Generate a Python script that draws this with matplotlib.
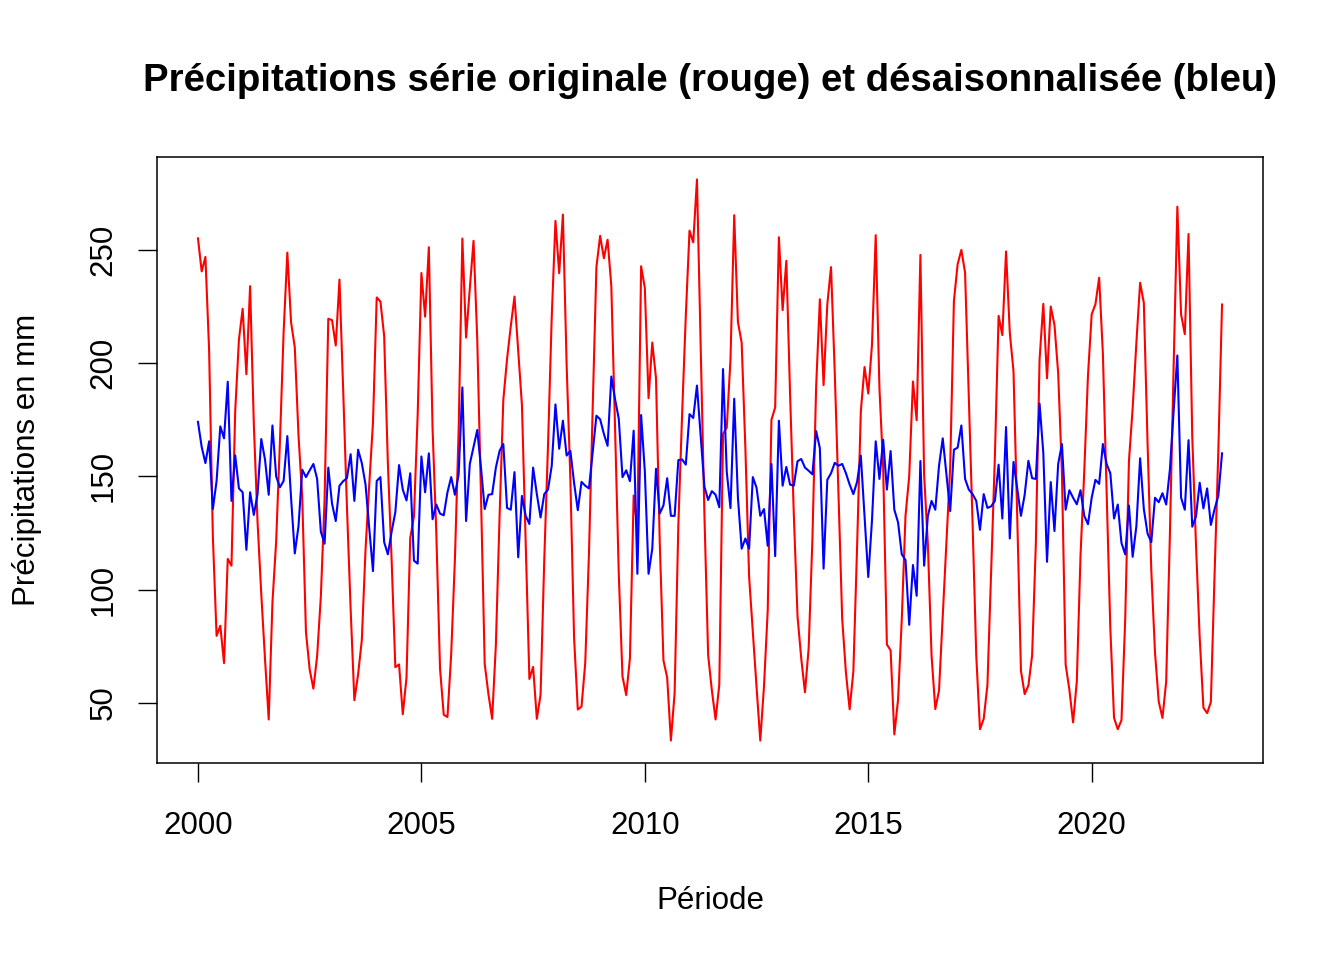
import numpy as np
import matplotlib
matplotlib.use('Agg')
from matplotlib import pyplot as plt

# série désaisonnalisée (bleu), mensuelle jan 2000 - déc 2022
blue_vals = [
    174.1, 163.0, 155.9, 165.5, 135.6, 148.0, 172.1, 166.8, 191.8, 139.2, 159.3, 144.7,
    143.0, 117.6, 143.0, 133.0, 142.2, 166.5, 157.5, 141.9, 172.5, 150.0, 145.2, 148.0,
    167.8, 140.6, 116.0, 128.1, 153.0, 149.7, 152.7, 155.5, 148.9, 125.6, 120.3, 153.9,
    138.0, 130.3, 145.9, 147.9, 149.2, 159.8, 139.2, 161.8, 155.9, 146.4, 127.0, 108.2,
    148.0, 149.7, 121.0, 115.6, 125.6, 134.2, 155.0, 144.2, 139.4, 151.4, 112.8, 111.5,
    158.8, 143.0, 160.2, 131.1, 137.6, 133.6, 132.8, 143.0, 149.7, 141.9, 150.9, 189.3,
    130.3, 155.5, 163.0, 170.5, 153.9, 135.6, 141.9, 142.2, 153.9, 161.3, 164.3, 136.1,
    135.3, 151.9, 114.3, 141.4, 132.6, 129.0, 153.9, 142.2, 131.9, 142.2, 144.2, 154.7,
    181.8, 162.2, 174.6, 159.2, 161.3, 147.2, 135.1, 147.6, 145.9, 144.7, 160.9, 176.8,
    175.2, 168.8, 163.5, 194.1, 184.1, 175.5, 149.7, 152.7, 147.9, 170.2, 107.0, 177.1,
    152.2, 107.0, 118.1, 153.4, 133.6, 137.2, 149.2, 132.6, 132.6, 157.2, 157.5, 155.2,
    177.5, 175.8, 190.1, 168.0, 145.5, 139.6, 143.5, 141.9, 136.4, 197.4, 152.0, 136.0,
    184.3, 140.6, 118.1, 122.6, 118.1, 149.7, 145.0, 132.6, 135.6, 119.4, 155.5, 114.8,
    174.6, 145.9, 154.2, 146.4, 145.9, 156.7, 157.7, 153.9, 152.5, 150.9, 170.0, 162.5,
    109.3, 148.5, 151.4, 156.0, 154.7, 155.5, 151.4, 146.4, 142.2, 147.6, 159.2, 132.6,
    105.6, 130.6, 165.5, 148.9, 166.2, 144.2, 161.2, 135.3, 129.7, 115.6, 113.1, 84.5,
    110.9, 97.3, 156.8, 110.6, 132.6, 139.2, 135.3, 154.7, 166.8, 150.9, 134.7, 161.8,
    162.7, 172.5, 148.9, 144.2, 142.2, 139.2, 126.4, 142.2, 136.1, 136.8, 139.2, 155.2,
    131.4, 171.8, 122.6, 156.4, 144.7, 132.6, 141.9, 156.9, 149.2, 148.9, 182.1, 160.5,
    112.3, 147.5, 125.9, 155.5, 164.3, 135.3, 143.9, 140.6, 137.7, 143.9, 132.6, 128.9,
    140.6, 148.5, 146.7, 164.3, 155.5, 151.4, 131.4, 137.6, 120.6, 115.6, 137.2, 114.5,
    128.1, 158.0, 135.6, 124.8, 121.0, 140.6, 138.6, 142.6, 137.6, 153.0, 178.8, 203.4,
    140.6, 135.3, 166.0, 127.8, 132.3, 147.2, 135.9, 144.7, 128.6, 135.6, 141.4, 160.2,
]

# série originale (rouge)
red_vals = [
    255.1, 240.5, 246.9, 205.5, 123.3, 79.6, 84.1, 67.6, 113.6, 110.6, 178.8, 210.4,
    224.0, 195.1, 234.0, 173.0, 129.9, 98.1, 69.5, 42.7, 94.3, 121.4, 164.7, 213.7,
    248.8, 218.1, 207.0, 168.1, 140.7, 81.3, 64.7, 56.3, 70.7, 97.0, 139.8, 219.6,
    219.0, 207.8, 236.9, 187.9, 136.9, 91.4, 51.2, 62.6, 77.7, 117.8, 146.5, 173.9,
    229.0, 227.2, 212.0, 155.6, 113.3, 65.8, 67.0, 45.0, 61.2, 122.8, 132.3, 177.2,
    239.8, 220.5, 251.2, 171.1, 125.3, 65.2, 44.8, 43.8, 71.5, 113.3, 170.4, 255.0,
    211.3, 233.0, 254.0, 210.5, 141.6, 67.2, 53.9, 43.0, 75.7, 132.7, 183.8, 201.8,
    216.3, 229.4, 205.3, 181.4, 120.3, 60.6, 65.9, 43.0, 53.7, 113.6, 163.7, 220.4,
    262.8, 239.7, 265.6, 199.2, 149.0, 78.8, 47.1, 48.4, 67.7, 116.1, 180.4, 242.5,
    256.2, 246.3, 254.5, 234.1, 171.8, 107.1, 61.7, 53.5, 69.7, 141.6, 126.5, 242.8,
    233.2, 184.5, 209.1, 193.4, 121.3, 68.8, 61.2, 33.4, 54.4, 128.6, 177.0, 220.9,
    258.5, 253.3, 281.1, 208.0, 133.2, 71.2, 55.5, 42.7, 58.2, 168.8, 171.5, 201.7,
    265.3, 218.1, 209.1, 162.6, 105.8, 81.3, 57.0, 33.4, 57.4, 90.8, 175.0, 180.5,
    255.6, 223.4, 245.2, 186.4, 133.6, 88.3, 69.7, 54.7, 74.3, 122.3, 189.5, 228.2,
    190.3, 226.0, 242.4, 196.0, 142.4, 87.1, 63.4, 47.2, 64.0, 119.0, 178.7, 198.3,
    186.6, 208.1, 256.5, 188.9, 153.9, 75.8, 73.2, 36.1, 51.5, 87.0, 132.6, 150.2,
    191.9, 174.8, 247.8, 150.6, 120.3, 70.8, 47.3, 55.5, 88.6, 122.3, 154.2, 227.5,
    243.7, 250.0, 239.9, 184.2, 129.9, 70.8, 38.4, 43.0, 57.9, 108.2, 158.7, 220.9,
    212.4, 249.3, 213.6, 196.4, 132.4, 64.2, 53.9, 57.7, 71.0, 120.3, 201.6, 226.2,
    193.3, 225.0, 216.9, 195.5, 152.0, 66.9, 55.9, 41.4, 59.5, 115.3, 152.1, 194.6,
    221.6, 226.0, 237.7, 204.3, 143.2, 83.0, 43.4, 38.4, 42.4, 87.0, 156.7, 180.2,
    209.1, 235.5, 226.6, 164.8, 108.7, 72.2, 50.6, 43.4, 59.4, 124.4, 198.3, 269.1,
    221.6, 212.8, 257.0, 167.8, 120.0, 78.8, 47.9, 45.5, 50.4, 107.0, 160.9, 225.9,
]

start_year = 2000
x_ticks = [2000, 2005, 2010, 2015, 2020]
y_ticks = [50, 100, 150, 200, 250]

t = start_year + np.arange(len(red_vals)) / 12.0
red = np.array(red_vals)
blue = np.array(blue_vals)

plt.rcParams['font.family'] = ['Liberation Sans', 'DejaVu Sans']

fig = plt.figure(figsize=(13.44, 9.6), dpi=100)
ax = fig.add_axes([157/1344, 1 - 763/960, (1263 - 157)/1344, (763 - 157)/960])

ax.plot(t, red, color='red', lw=1.5)
ax.plot(t, blue, color='blue', lw=1.5)

# marges à la R (4%)
dx = (t.max() - t.min()) * 0.04
ymin = min(red.min(), blue.min())
ymax = max(red.max(), blue.max())
dy = (ymax - ymin) * 0.04
ax.set_xlim(t.min() - dx, t.max() + dx)
ax.set_ylim(ymin - dy, ymax + dy)

ax.set_xticks(x_ticks)
ax.set_yticks(y_ticks)
ax.set_xticklabels([str(v) for v in x_ticks], fontsize=22.5)
ax.set_yticklabels([str(v) for v in y_ticks], fontsize=22.5, rotation=90, va='center')
ax.tick_params(direction='out', length=13.5, width=1.0, color='black')
ax.tick_params(axis='x', pad=21)
ax.tick_params(axis='y', pad=14)
for s in ax.spines.values():
    s.set_linewidth(1.1)

fig.text(710/1344, 1 - 901/960, 'Période', ha='center', va='center', fontsize=22.5)
fig.text(27/1344, 1 - 460/960, 'Précipitations en mm', ha='center', va='center',
         rotation=90, fontsize=22.5)
fig.text(710/1344, 1 - 81/960, 'Précipitations série originale (rouge) et désaisonnalisée (bleu)',
         ha='center', va='center', fontsize=27.6, fontweight='bold')

fig.savefig('out.png', dpi=100)
